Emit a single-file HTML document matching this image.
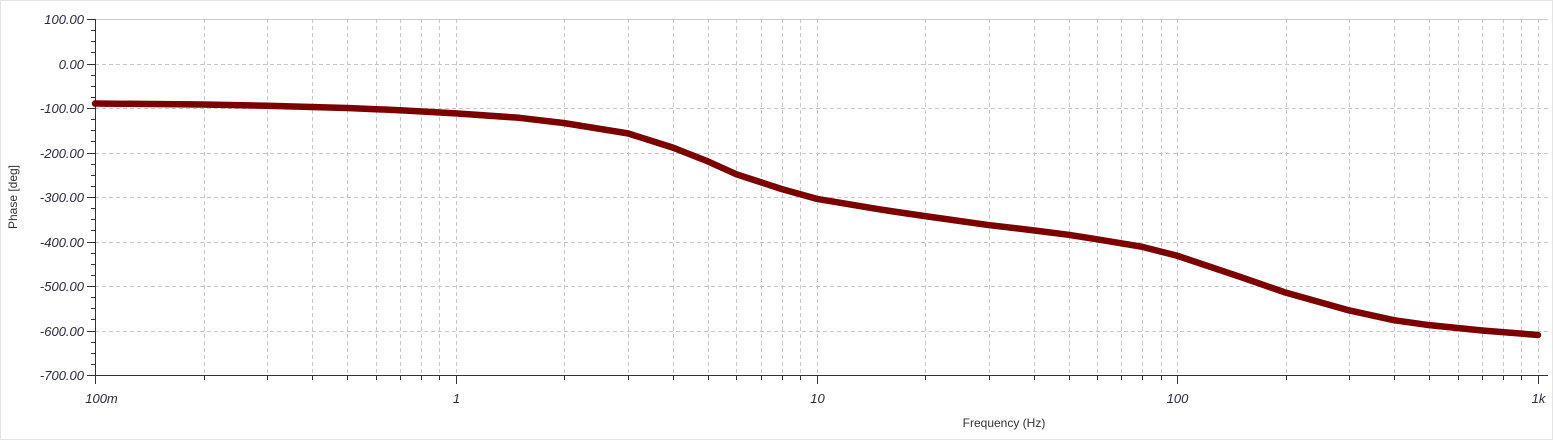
<!DOCTYPE html>
<html><head><meta charset="utf-8"><style>
body{margin:0;background:#fff;width:1553px;height:440px;overflow:hidden}
svg text{font-family:"Liberation Sans",sans-serif}
</style></head><body>
<svg id="chart" width="1553" height="440" xmlns="http://www.w3.org/2000/svg">
<rect x="0" y="0" width="1553" height="440" fill="#fff"/>
<rect x="0.5" y="0.5" width="1552" height="439" fill="none" stroke="#e4e4e4"/>
<g id="grid"></g><g id="axes"></g><g id="series"></g>
<text transform="translate(17,197) rotate(-90)" text-anchor="middle" font-size="12" fill="#333">Phase [deg]</text>
<text x="1004" y="427" text-anchor="middle" font-size="12" fill="#333">Frequency (Hz)</text>
</svg>
<script>
const freqs=[0.1,0.2,0.3,0.5,0.7,1,1.5,2,3,4,5,6,8,10,15,20,30,40,50,60,80,100,150,200,300,400,500,700,1000];
const phase=[-90,-92,-95,-100,-105,-112,-122,-134,-157,-189,-220,-249,-282,-304,-328,-343,-363,-375,-385,-395,-412,-432,-480,-515,-555,-577,-588,-600,-610];
const yTicks=[100,0,-100,-200,-300,-400,-500,-600,-700];
const yTickLabels=["100.00","0.00","-100.00","-200.00","-300.00","-400.00","-500.00","-600.00","-700.00"];
const xDecades=[0.1,1,10,100,1000];
const xDecadeLabels=["100m","1","10","100","1k"];
const NS="http://www.w3.org/2000/svg";
const X0=95,X1=1538,Y0=19,Y1=375;
const xs=f=>X0+(Math.log10(f)+1)/4*(X1-X0);
const ys=v=>Y0+(100-v)/800*(Y1-Y0);
function mk(tag,at,parent){const e=document.createElementNS(NS,tag);for(const k in at)e.setAttribute(k,at[k]);document.getElementById(parent).appendChild(e);return e;}
let fr=mk('line',{x1:X0,x2:X1+10,y1:Y0+.5,y2:Y0+.5,stroke:'#ccc'},'grid');


yTicks.forEach((v,i)=>{const y=Math.round(ys(v))+.5;
 if(v!==100&&v!==-700){const g=mk('line',{x1:X0,x2:X1+10,y1:y,y2:y,stroke:'#c8c8c8','stroke-dasharray':'4,3'},'grid');
 
 }
 mk('line',{x1:X0-8,x2:X0,y1:y,y2:y,stroke:'#333'},'axes');
 const t=mk('text',{x:X0-11,y:y+4.5,'text-anchor':'end','font-size':'13','font-style':'italic',fill:'#2a2a40'},'axes');t.textContent=yTickLabels[i];
 
 
 if(i<yTicks.length-1)for(let k=1;k<4;k++){const yy=Math.round(ys(v-25*k))+.5;mk('line',{x1:X0-4,x2:X0,y1:yy,y2:yy,stroke:'#333'},'axes');}
});
xDecades.forEach((d,i)=>{const x=Math.round(xs(d))+.5;
 if(i>0){const g=mk('line',{x1:x,x2:x,y1:Y0,y2:Y1,stroke:'#c8c8c8','stroke-dasharray':'4,3'},'grid');
 
 }
 mk('line',{x1:x,x2:x,y1:Y1,y2:Y1+9,stroke:'#333'},'axes');
 const t=mk('text',{x:i==0?x+6:x,y:Y1+28,'text-anchor':'middle','font-size':'13','font-style':'italic',fill:'#2a2a40'},'axes');t.textContent=xDecadeLabels[i];
 
 
 if(i<xDecades.length-1)for(let k=2;k<10;k++){const xx=Math.round(xs(d*k))+.5;
  mk('line',{x1:xx,x2:xx,y1:Y0,y2:Y1,stroke:'#c8c8c8','stroke-dasharray':'4,3'},'grid');
  mk('line',{x1:xx,x2:xx,y1:Y1,y2:Y1+5,stroke:'#333'},'axes');}
});
let ya=mk('line',{x1:X0+.5,x2:X0+.5,y1:Y0,y2:Y1,stroke:'#333'},'axes');


let xa=mk('line',{x1:X0,x2:X1+10,y1:Y1+.5,y2:Y1+.5,stroke:'#333'},'axes');


let ln=mk('polyline',{points:freqs.map((f,i)=>xs(f)+','+ys(phase[i])).join(' '),fill:'none',stroke:'#7b0000','stroke-width':'6.5','stroke-linejoin':'round','stroke-linecap':'round'},'series');


</script>
</body></html>
